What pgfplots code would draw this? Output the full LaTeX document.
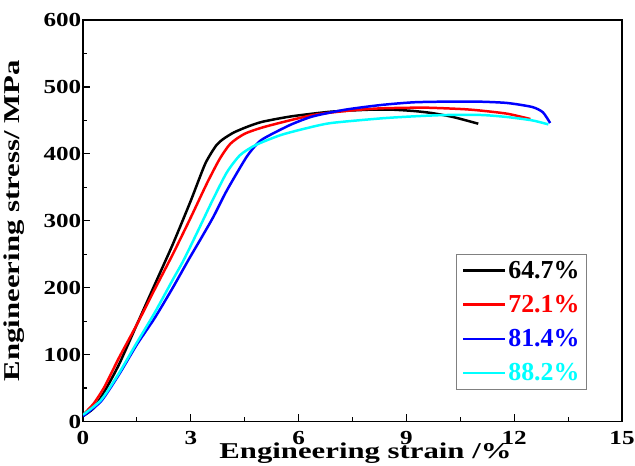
\documentclass[border=0pt]{standalone}
\usepackage{fontspec}
\setmainfont{Liberation Serif}
\newfontfamily\tickfont[FakeStretch=1.26]{Liberation Serif}
\newfontfamily\labelfont[FakeStretch=1.36]{Liberation Serif}
\usepackage{pgfplots}
\pgfplotsset{compat=1.18}
\definecolor{cyanline}{RGB}{0,255,255}
\begin{document}
\begin{tikzpicture}
\begin{axis}[
    scale only axis,
    width=539bp, height=401.5bp,
    xmin=0, xmax=15, ymin=0, ymax=600,
    xtick={0,3,...,15}, ytick={0,100,...,600},
    minor x tick num=1, minor y tick num=1,
    tick pos=left,
    tick align=inside,
    major tick length=7bp, minor tick length=4bp,
    every tick/.style={line width=1.2pt, black},
    axis line style={line width=1.5pt},
    /pgf/number format/assume math mode=true,
    tick label style={font=\fontsize{20}{22}\selectfont\tickfont\bfseries},
    yticklabel style={inner sep=1.5bp},
    xticklabel style={inner sep=0bp, yshift=-10bp},
    xlabel={Engineering strain /\%},
    ylabel={Engineering stress/ MPa},
    label style={font=\fontsize{22.7}{24}\selectfont\labelfont\bfseries},
    xlabel style={at={(axis description cs:0.5,0)}, anchor=base, yshift=-37bp, xshift=13bp, inner sep=0pt},
    ylabel style={at={(axis description cs:0,0.5)}, anchor=base, yshift=63.5bp, inner sep=0pt},
    legend image code/.code={\draw[#1] (0bp,0bp) -- (42bp,0bp);},
    legend style={at={(0.935,0.079)}, anchor=south east, draw=gray, line width=0.8pt,
      font=\fontsize{26}{28}\selectfont\bfseries, row sep=11.5bp, inner sep=5bp},
    legend cell align=left,
    every axis plot/.append style={line width=2.5pt, smooth, tension=0.4},
  ]
  \addplot[black] coordinates {
    (0,8) (0.3,20) (0.6,45) (1.0,85) (1.5,145) (2.0,205) (2.5,265) (3.0,330)
    (3.4,385) (3.7,412) (3.9,422) (4.2,432) (4.6,441) (5.0,448) (5.8,456)
    (6.9,463) (8.0,466) (8.6,466) (9.2,464) (9.7,461) (10.3,455) (11.0,445)
  };
  \addlegendentry{64.7\%}
  \addplot[red] coordinates {
    (0,10) (0.3,27) (0.6,52) (1.0,95) (1.5,145) (2.0,198) (2.5,250) (3.0,305)
    (3.45,356) (3.8,392) (4.1,415) (4.5,430) (5.1,441) (6.4,458) (7.5,465)
    (8.3,468) (9.5,469) (10.5,467) (11.0,465) (11.8,460) (12.45,452)
  };
  \addlegendentry{\textcolor{red}{72.1\%}}
  \addplot[blue] coordinates {
    (0,8) (0.5,30) (1.0,70) (1.5,115) (2.0,155) (2.5,200) (2.93,241) (3.3,275)
    (3.63,306) (4.0,345) (4.56,396) (4.9,418) (5.2,428) (5.8,444) (6.4,456)
    (7.3,466) (8.3,473) (9.2,477) (10.1,478) (11.0,478) (11.8,476) (12.5,470)
    (12.8,462) (13.0,446)
  };
  \addlegendentry{\textcolor{blue}{81.4\%}}
  \addplot[cyanline] coordinates {
    (0,10) (0.5,32) (1.0,72) (1.5,118) (2.0,163) (2.5,212) (2.8,241) (3.2,285)
    (3.6,330) (4.0,372) (4.37,398) (4.8,413) (5.5,428) (6.2,438) (6.9,446)
    (8.3,453) (9.2,456) (10.1,458) (11.1,458) (11.8,455) (12.5,450) (12.95,444)
  };
  \addlegendentry{\textcolor{cyanline}{88.2\%}}
\end{axis}
\pgfresetboundingbox
\path ([shift={(-83bp,-44.5bp)}]current axis.south west) rectangle ([shift={(13bp,20bp)}]current axis.north east);
\end{tikzpicture}
\end{document}
